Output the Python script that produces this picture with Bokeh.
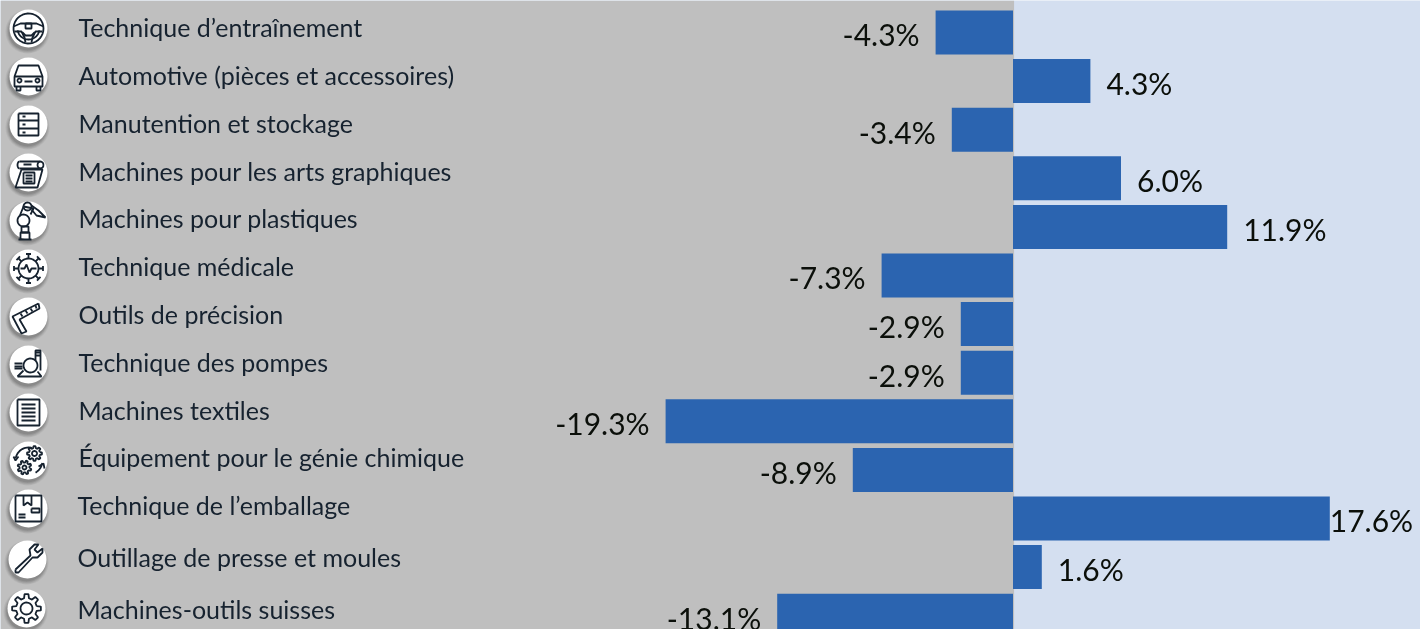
import numpy as np
from bokeh.plotting import figure
from bokeh.models import Range1d, BoxAnnotation
from bokeh.core.properties import value
from bokeh.embed import file_html
from bokeh.resources import INLINE

categories = ["Technique d’entraînement", "Automotive (pièces et accessoires)", "Manutention et stockage",
              "Machines pour les arts graphiques", "Machines pour plastiques", "Technique médicale",
              "Outils de précision", "Technique des pompes", "Machines textiles",
              "Équipement pour le génie chimique", "Technique de l’emballage",
              "Outillage de presse et moules", "Machines-outils suisses"]
values = [-4.3, 4.3, -3.4, 6.0, 11.9, -7.3, -2.9, -2.9, -19.3, -8.9, 17.6, 1.6, -13.1]
value_labels = ["-4.3%", "4.3%", "-3.4%", "6.0%", "11.9%", "-7.3%", "-2.9%", "-2.9%", "-19.3%", "-8.9%", "17.6%", "1.6%", "-13.1%"]

W, H = 1420, 629
BLUE = "#2B64B0"; GREY = "#BFBFBF"; PALE = "#D4DFF0"; INK = "#16222F"
LABEL_FONT = "Lato"; VALUE_FONT = "Lato"

idx = np.arange(len(values))
p = figure(width=W, height=H, output_backend="svg", toolbar_location=None, min_border=0,
           x_range=Range1d(-1012.5 / 18, (W - 1012.5) / 18),
           y_range=Range1d((H - 32) / 48.6, -32 / 48.6))
p.styles = {"position": "fixed", "left": "0", "top": "0"}
p.axis.visible = False
p.grid.visible = False
p.outline_line_color = None
p.background_fill_color = PALE
p.border_fill_color = PALE
p.add_layout(BoxAnnotation(right=0.06, fill_color=GREY, fill_alpha=1, line_color=None, level="underlay"))
p.extra_x_ranges["px"] = Range1d(0, W)
p.extra_y_ranges["px"] = Range1d(H, 0)

vals = np.array(values)
p.hbar(y=idx, left=np.minimum(vals, 0), right=np.maximum(vals, 0), height=44 / 48.6,
       fill_color=BLUE, line_color=None)

# value labels in data coordinates, 16px away from the bar end
neg = vals < 0
p.text(x=vals[neg], y=idx[neg] + 0.04, text=[l for l, n in zip(value_labels, neg) if n], x_offset=-16,
       text_align="right", text_baseline="middle", text_font=value(VALUE_FONT), text_font_size="30px", text_color="#0b0f0a")
pos_i = idx[~neg]
pos_off = [16 if vals[i] < 15 else 0 for i in pos_i]
p.text(x=vals[~neg], y=pos_i + 0.04, text=[value_labels[i] for i in pos_i], x_offset=pos_off,
       text_align="left", text_baseline="middle", text_font=value(VALUE_FONT), text_font_size="30px", text_color="#0b0f0a")

# category labels
label_x = [78, 78, 78, 78, 78, 78, 78, 78, 78, 78, 77, 77, 77]
label_y = [26, 74, 122, 170, 217, 265, 313, 361, 409, 456, 504, 556, 608]
p.text(x=label_x, y=label_y, text=categories, x_range_name="px", y_range_name="px",
       text_align="left", text_baseline="middle", text_font=value(LABEL_FONT), text_font_size="25px", text_color=INK)

# icon helpers (local pixel coordinates around each badge's centre)
def ring(cx, cy, r, a0=0, a1=360, n=36, ry=None):
    a = np.radians(np.linspace(a0, a1, n))
    return list(zip(cx + r * np.cos(a), cy + (ry or r) * np.sin(a)))

def rect(x0, y0, x1, y1):
    return [(x0, y0), (x1, y0), (x1, y1), (x0, y1), (x0, y0)]

def gear(cx, cy, r0, r1, teeth=8, rot=0):
    pts = []
    for i in range(teeth):
        c = 360 / teeth * i + rot
        w = 360 / teeth
        for d, r in [(-0.30, r0), (-0.17, r1), (0.17, r1), (0.30, r0)]:
            a = np.radians(c + d * w)
            pts.append((cx + r * np.cos(a), cy + r * np.sin(a)))
    return pts + pts[:1]

wheel = [ring(0, 0, 15), ring(0, 0, 11, 10, 170),
         [(-15, -2), (-8, -5), (8, -5), (15, -2)],
         [(-14, 3), (-7, 3), (-4, 9), (-3, 14)], [(14, 3), (7, 3), (4, 9), (3, 14)],
         rect(-3, -5, 3, 0), [(-6, 4), (-3, 7), (3, 7), (6, 4)]]
car = [[(-14, 0), (-10, -11), (10, -11), (14, 0), (14, 10), (-14, 10), (-14, 0)], [(-14, 0), (14, 0)],
       ring(-9, 4, 2), ring(9, 4, 2), [(-4, 5), (4, 5)],
       [(-12, 10), (-12, 14), (-8, 14), (-8, 10)], [(12, 10), (12, 14), (8, 14), (8, 10)]]
cabinet = [rect(-10, -11, 10, 11), [(-10, -4), (10, -4)], [(-10, 4), (10, 4)],
           [(-6, -8), (-3, -8)], [(-6, 0), (-3, 0)], [(-6, 8), (-3, 8)]]
press = [[(-9, -11), (12, -11)], [(-9, -4), (12, -4)], ring(-9, -7.5, 2, 90, 270, 12, 3.5), ring(12, -7.5, 3, 0, 360, 16, 3.5),
         [(-7, -3), (14, -3), (9, 15), (-13, 15), (-7, -3)], rect(-5, 0, 6, 11), [(-3, 3), (4, 3)], [(-3, 6), (4, 6)], [(-3, 9), (4, 9)],
         [(-5, -8), (3, -8)]]
robot = [[(-10, 19), (3, 19)], [(-8, 19), (-8, 12), (1, 12), (1, 19)], rect(-7, 6, 0, 12), ring(-5, 0, 6),
         [(-9, -4), (-5, -14), (5, -12), (2, -6)], ring(-1, -14, 4), [(3, -15), (10, -10), (17, -3), (8, -5), (3, -11)]]
virus = [ring(0, 0, 10), [(-8, 0), (-4, 0), (-2, -4), (1, 4), (3, 0), (8, 0)]]
for k in range(8):
    a = np.radians(45 * k)
    c, s = np.cos(a), np.sin(a)
    virus.append([(10 * c, 10 * s), (14.5 * c, 14.5 * s)])
    virus.append([(14.5 * c - 2.5 * s, 14.5 * s + 2.5 * c), (14.5 * c + 2.5 * s, 14.5 * s - 2.5 * c)])
square = [[(10, -13), (-16, 0), (-7, 17), (-2, 15), (-9, 3), (11, -8), (10, -13)],
          [(-8, -3), (-6, 0)], [(-3, -6), (-1, -3)], [(2, -8), (4, -5)], [(7, -11), (8, -8)]]
pump = [ring(2, 1, 7), [(-11, 12), (13, 12), (9, 7)], [(-11, 12), (-5, 6)], [(-14, -1), (-6, -1)], [(-14, 2), (-6, 2)], [(-14, 4), (-6, 4)],
        [(7, -4), (7, -14), (12, -14), (12, 6)], [(7, -12), (12, -12)], [(7, -9), (12, -9)]]
stamp = [rect(-11, -13, 11, 13), [(-7, -8), (7, -8)], [(-7, -4), (7, -4)], [(-7, 0), (7, 0)], [(-7, 4), (7, 4)], [(-7, 8), (7, 8)]]
process = [gear(6, -7, 5.5, 7.5), ring(6, -7, 2.5), gear(-4, 7, 5, 7, rot=20), ring(-4, 7, 2),
           ring(0, 0, 13, 190, 285, 14), [(-15, -4), (-13, 0), (-10, -4)], ring(0, 0, 14, 10, 60, 10), [(10, 6), (15, 3), (16, 8)]]
box = [rect(-13, -13, 13, 13), [(-5, -13), (-5, -3), (-1, -6), (3, -3), (3, -13)], rect(3, 0, 11, 4),
       [(-10, 6), (-3, 6)], [(-10, 9), (-3, 9)]]
wrench = [[(-12, 10), (3, -4), (2, -10), (7, -15), (11, -15), (7, -10), (10, -7), (15, -11), (15, -7), (10, -2), (5, -2), (-9, 13), (-12, 13), (-12, 10)]]
cog = [gear(0, 0, 10.5, 14.5), ring(0, 0, 6)]

icons = [wheel, car, cabinet, press, robot, virus, square, pump, stamp, process, box, wrench, cog]
icon_x = [28, 28, 28, 28, 28, 28, 28, 28, 28, 28, 28, 27, 26]
icon_y = [28, 76, 124, 172, 220, 268, 316, 364, 412, 460, 508, 559, 608]

for dr, alpha in [(3, 0.10), (2, 0.12), (1, 0.18), (0, 0.22)]:
    p.circle(x=[x - 1 for x in icon_x], y=[y + 3 for y in icon_y], radius=19 + dr, radius_units="screen",
             x_range_name="px", y_range_name="px", fill_color="#555555", fill_alpha=alpha, line_color=None)
p.circle(x=icon_x, y=icon_y, radius=19, radius_units="screen", x_range_name="px", y_range_name="px",
         fill_color="white", line_color=None)

xs, ys = [], []
for icon, cx, cy in zip(icons, icon_x, icon_y):
    for part in icon:
        xs.append([cx + a for a, _ in part])
        ys.append([cy + b for _, b in part])
p.multi_line(xs=xs, ys=ys, x_range_name="px", y_range_name="px", line_color=INK, line_width=1.8)

open("out.html", "w").write(file_html(p, INLINE))
